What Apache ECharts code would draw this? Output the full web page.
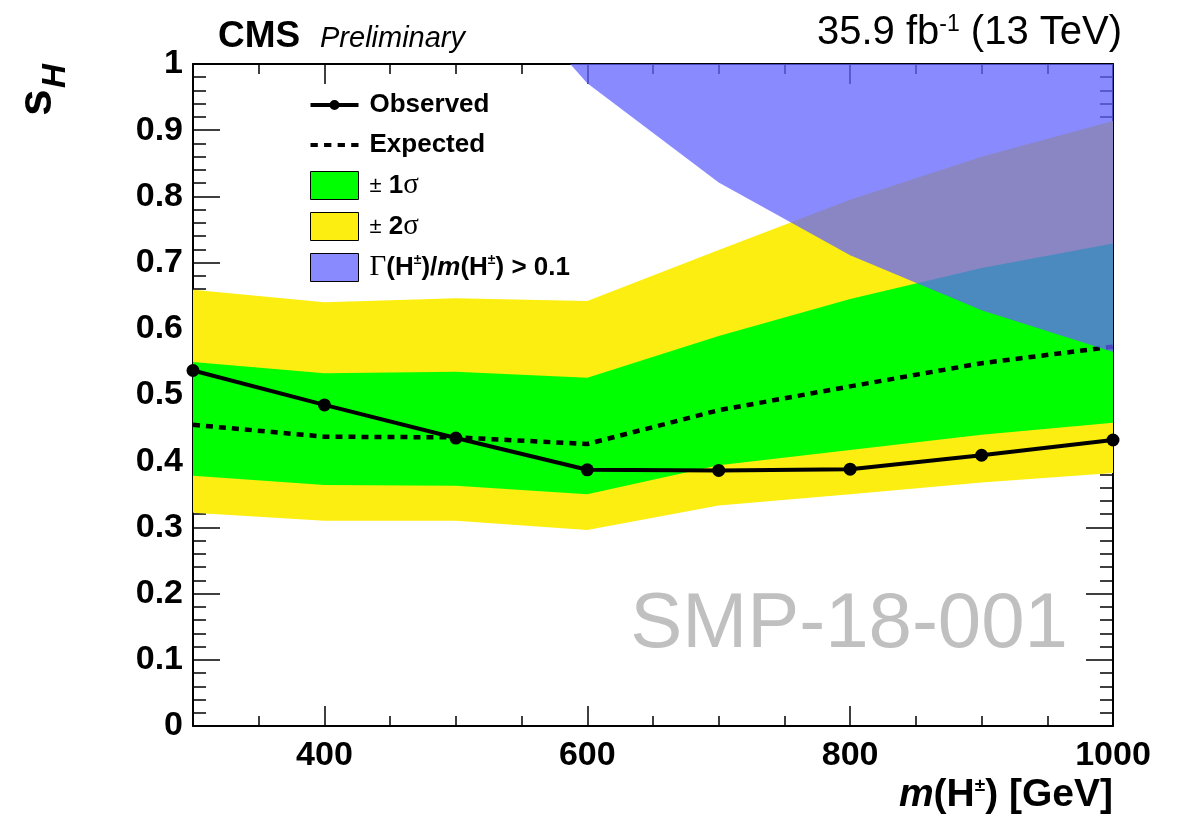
<!DOCTYPE html>
<html>
<head>
<meta charset="utf-8">
<script src="https://cdn.jsdelivr.net/npm/echarts@6/dist/echarts.min.js"></script>
<style>
html,body{margin:0;padding:0;background:#fff;}
#chart{width:1185px;height:820px;}
</style>
</head>
<body>
<div id="chart"></div>
<script>
// ---- data ----
const mass = [300, 400, 500, 600, 700, 800, 900, 1000];
const observed = [0.537, 0.485, 0.435, 0.387, 0.386, 0.388, 0.409, 0.432];
const expected = [0.455, 0.437, 0.436, 0.426, 0.477, 0.513, 0.548, 0.573];
const sigma1Low = [0.378, 0.364, 0.363, 0.350, 0.394, 0.417, 0.440, 0.458];
const sigma1High = [0.550, 0.533, 0.535, 0.526, 0.589, 0.645, 0.692, 0.729];
const sigma2Low = [0.322, 0.310, 0.310, 0.296, 0.333, 0.350, 0.368, 0.382];
const sigma2High = [0.659, 0.640, 0.646, 0.642, 0.719, 0.795, 0.860, 0.914];
const widthMass = [587, 600, 700, 800, 900, 1000];
const widthLimit = [1.0, 0.971, 0.821, 0.711, 0.628, 0.565];
const widthUpper = [1, 1, 1, 1, 1, 1];
const xMajorTicks = [400, 600, 800, 1000];

const FONT = 'Liberation Sans';
const chart = echarts.init(document.getElementById('chart'), null, {renderer: 'canvas'});

function band(name, xs, lo, hi, color, z) {
  return {
    type: 'custom', name: name, z: z, clip: true,
    xAxisIndex: 0, yAxisIndex: 0,
    itemStyle: {color: color},
    data: [[xs[0], lo[0]]],
    renderItem: function (params, api) {
      const pts = [];
      for (let i = 0; i < xs.length; i++) pts.push(api.coord([xs[i], hi[i]]));
      for (let i = xs.length - 1; i >= 0; i--) pts.push(api.coord([xs[i], lo[i]]));
      return {type: 'polygon', shape: {points: pts}, style: {fill: color}};
    }
  };
}

const xBase = {type: 'value', min: 300, max: 1000, interval: 50, splitLine: {show: false}};
const yBase = {type: 'value', min: 0, max: 1, interval: 0.1, splitLine: {show: false}};
const tickLine = {color: '#000', width: 1.5};

const option = {
  backgroundColor: '#fff',
  animation: false,
  grid: {left: 193, right: 72, top: 64, bottom: 94, containLabel: false},
  xAxis: [
    Object.assign({}, xBase, {
      position: 'bottom',
      axisLine: {show: true, lineStyle: {color: '#000', width: 2}},
      axisTick: {show: true, inside: true, length: 10, lineStyle: tickLine},
      axisLabel: {show: true, customValues: xMajorTicks, formatter: function (v) { return String(v); },
        color: '#000', fontFamily: FONT, fontWeight: 'bold', fontSize: 34, margin: 13}
    }),
    Object.assign({}, xBase, {
      position: 'bottom',
      axisLine: {show: false},
      axisTick: {show: true, inside: true, length: 20, customValues: xMajorTicks, lineStyle: tickLine},
      axisLabel: {show: false}
    }),
    Object.assign({}, xBase, {
      position: 'top',
      axisLine: {show: true, lineStyle: {color: '#000', width: 2}},
      axisTick: {show: true, inside: true, length: 10, lineStyle: tickLine},
      axisLabel: {show: false}
    }),
    Object.assign({}, xBase, {
      position: 'top',
      axisLine: {show: false},
      axisTick: {show: true, inside: true, length: 20, customValues: xMajorTicks, lineStyle: tickLine},
      axisLabel: {show: false}
    })
  ],
  yAxis: [
    Object.assign({}, yBase, {
      position: 'left',
      axisLine: {show: true, lineStyle: {color: '#000', width: 2}},
      axisTick: {show: true, inside: true, length: 27, lineStyle: tickLine},
      minorTick: {show: true, splitNumber: 5, length: 13, lineStyle: tickLine},
      axisLabel: {show: true, color: '#000', fontFamily: FONT, fontWeight: 'bold', fontSize: 34, margin: 10}
    }),
    Object.assign({}, yBase, {
      position: 'right',
      axisLine: {show: true, lineStyle: {color: '#000', width: 2}},
      axisTick: {show: true, inside: true, length: 27, lineStyle: tickLine},
      minorTick: {show: true, splitNumber: 5, length: 13, lineStyle: tickLine},
      axisLabel: {show: false}
    })
  ],
  legend: {
    orient: 'vertical', left: 310, top: 91, padding: 0,
    itemWidth: 48, itemHeight: 28, itemGap: 12,
    selectedMode: false,
    textStyle: {
      color: '#000', fontFamily: FONT, fontWeight: 'bold', fontSize: 26, lineHeight: 28, padding: [0, 0, 0, 6],
      rich: {
        b: {fontFamily: FONT, fontWeight: 'bold', fontSize: 26, lineHeight: 28, color: '#000'},
        pm: {fontFamily: FONT, fontWeight: 'normal', fontSize: 22, lineHeight: 28, color: '#000'},
        g: {fontFamily: 'Liberation Serif', fontWeight: 'normal', fontSize: 29, lineHeight: 28, color: '#000'},
        bi: {fontFamily: FONT, fontWeight: 'bold', fontStyle: 'italic', fontSize: 26, lineHeight: 28, color: '#000'},
        sup: {fontFamily: FONT, fontWeight: 'bold', fontSize: 14, lineHeight: 22, color: '#000', verticalAlign: 'top'}
      }
    },
    formatter: function (name) {
      if (name === 's1') return '{pm|±} {b|1}{g|σ}';
      if (name === 's2') return '{pm|±} {b|2}{g|σ}';
      if (name === 'width') return '{g|Γ}{b|(H}{sup|±}{b|)/}{bi|m}{b|(H}{sup|±}{b|) > 0.1}';
      return '{b|' + name + '}';
    },
    data: [
      {name: 'Observed', icon: 'path://M0,3h48v4h-48z M29,5a5,5 0 1,1 -10,0a5,5 0 1,1 10,0z', itemStyle: {color: '#000', borderWidth: 0}},
      {name: 'Expected', icon: 'path://M0,0h7v4h-7z M13,0h7v4h-7z M26,0h7v4h-7z M39,0h7v4h-7z', itemStyle: {color: '#000', borderWidth: 0}},
      {name: 's1', icon: 'rect', itemStyle: {color: '#00ff00', borderColor: '#000', borderWidth: 1}},
      {name: 's2', icon: 'rect', itemStyle: {color: '#fcee10', borderColor: '#000', borderWidth: 1}},
      {name: 'width', icon: 'rect', itemStyle: {color: 'rgba(99,99,255,0.75)', borderColor: '#000', borderWidth: 1}}
    ]
  },
  series: [
    band('s2', mass, sigma2Low, sigma2High, '#fcee10', 1),
    band('s1', mass, sigma1Low, sigma1High, '#00ff00', 2),
    {
      type: 'line', name: 'Expected', z: 3,
      data: mass.map((m, i) => [m, expected[i]]),
      symbol: 'none',
      lineStyle: {color: '#000', width: 4.5, type: [7, 6]},
      itemStyle: {color: '#000'}
    },
    {
      type: 'line', name: 'Observed', z: 4,
      data: mass.map((m, i) => [m, observed[i]]),
      symbol: 'circle', symbolSize: 13,
      lineStyle: {color: '#000', width: 4},
      itemStyle: {color: '#000'}
    },
    band('width', widthMass, widthLimit, widthUpper, 'rgba(99,99,255,0.75)', 5)
  ],
  graphic: [
    {type: 'text', left: 218, top: 18, style: {text: 'CMS', font: 'bold 37px "Liberation Sans"', fill: '#000'}},
    {type: 'text', left: 320, top: 24, style: {text: 'Preliminary', font: 'italic 29px "Liberation Sans"', fill: '#000'}},
    {type: 'text', right: 63, top: 13, style: {
      text: '{n|35.9 fb}{s|-1}{n| (13 TeV)}',
      rich: {
        n: {font: '40px "Liberation Sans"', fill: '#000'},
        s: {font: '23px "Liberation Sans"', fill: '#000', verticalAlign: 'top'}
      }
    }},
    {type: 'text', right: 117, top: 586, style: {text: 'SMP-18-001', font: '78px "Liberation Sans"', fill: '#c0c0c0'}},
    {type: 'text', right: 72, top: 776, style: {
      text: '{i|m}{n|(H}{s|±}{n|) [GeV]}',
      rich: {
        i: {font: 'italic bold 39px "Liberation Sans"', fill: '#000'},
        n: {font: 'bold 39px "Liberation Sans"', fill: '#000'},
        s: {font: 'bold 19px "Liberation Sans"', fill: '#000', verticalAlign: 'top'}
      }
    }},
    {type: 'text', x: 62, y: 116, rotation: Math.PI / 2, style: {text: 's', font: 'bold 48px "Liberation Sans"', fill: '#000', align: 'left', verticalAlign: 'bottom'}},
    {type: 'text', x: 72, y: 88, rotation: Math.PI / 2, style: {text: 'H', font: 'italic bold 33px "Liberation Sans"', fill: '#000', align: 'left', verticalAlign: 'bottom'}}
  ]
};
chart.setOption(option);
</script>
</body>
</html>
